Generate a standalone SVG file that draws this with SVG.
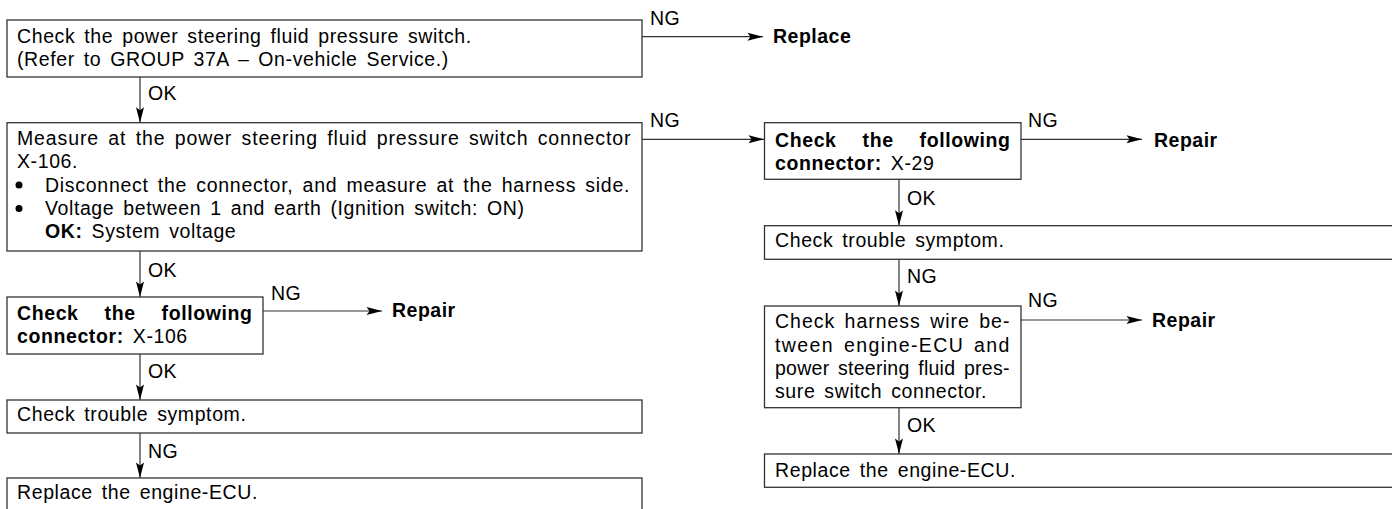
<svg xmlns="http://www.w3.org/2000/svg" width="1392" height="509" viewBox="0 0 1392 509">
<style>
text{font-family:"Liberation Sans",Arial,sans-serif;font-size:19.5px;fill:#000;letter-spacing:0.6px;word-spacing:3px}
.b{font-weight:bold}
.j{font-weight:bold;word-spacing:20px}
.lbl{letter-spacing:0.3px}
.rp{font-weight:bold;letter-spacing:0.5px}
.box{fill:#fff;stroke:#333;stroke-width:1.3}
.ln{fill:none;stroke:#333;stroke-width:1.2}
.h{marker-end:url(#ah)}
</style>
<defs>
<marker id="ah" markerUnits="userSpaceOnUse" markerWidth="18" markerHeight="10" refX="16" refY="4.5" orient="auto">
<path d="M16,4.5 L0.5,0.5 L3.5,4.5 L0.5,8.5 Z" fill="#000"/>
</marker>
</defs>
<g id="connectors">
<path class="ln h" d="M642,36.7 H763"/>
<path class="ln h" d="M140,77 V122.7"/>
<path class="ln h" d="M642,139.3 H764"/>
<path class="ln h" d="M140,251 V297"/>
<path class="ln h" d="M263,311 H382"/>
<path class="ln h" d="M140,354 V400"/>
<path class="ln h" d="M140,433 V478"/>
<path class="ln h" d="M1021,139.3 H1142"/>
<path class="ln h" d="M899,179.3 V225.7"/>
<path class="ln h" d="M899,259.3 V306"/>
<path class="ln h" d="M1021,320 H1142"/>
<path class="ln h" d="M899,407.7 V454"/>
<text class="lbl" x="650" y="25">NG</text>
<text class="lbl" x="148" y="100">OK</text>
<text class="lbl" x="650" y="127">NG</text>
<text class="lbl" x="148" y="277">OK</text>
<text class="lbl" x="271" y="300">NG</text>
<text class="lbl" x="148" y="378">OK</text>
<text class="lbl" x="148" y="458">NG</text>
<text class="lbl" x="1028" y="127">NG</text>
<text class="lbl" x="907" y="205">OK</text>
<text class="lbl" x="907" y="283">NG</text>
<text class="lbl" x="1028" y="306.7">NG</text>
<text class="lbl" x="907" y="431.7">OK</text>
</g>
<g id="n1">
<rect class="box" x="7" y="20" width="635" height="57"/>
<text x="17" y="43">Check the power steering fluid pressure switch.</text>
<text x="17" y="66">(Refer to GROUP 37A – On-vehicle Service.)</text>
</g>
<g id="r1"><text class="rp" x="773" y="43">Replace</text></g>
<g id="n2">
<rect class="box" x="7" y="122.7" width="635" height="128.3"/>
<text x="17" y="145" textLength="614" lengthAdjust="spacing">Measure at the power steering fluid pressure switch connector</text>
<text x="17" y="168">X-106.</text>
<circle cx="19" cy="185" r="3.5" fill="#000"/>
<text x="45" y="191.5" textLength="585" lengthAdjust="spacing">Disconnect the connector, and measure at the harness side.</text>
<circle cx="19" cy="208.5" r="3.5" fill="#000"/>
<text x="45" y="215">Voltage between 1 and earth (Ignition switch: ON)</text>
<text x="45" y="238"><tspan class="b">OK:</tspan>  System voltage</text>
</g>
<g id="n3">
<rect class="box" x="7" y="297" width="256" height="57"/>
<text class="j" x="17" y="320">Check the following</text>
<text x="17" y="343"><tspan class="b">connector:</tspan> X-106</text>
</g>
<g id="r2"><text class="rp" x="392" y="317">Repair</text></g>
<g id="n4">
<rect class="box" x="7" y="400" width="635" height="33"/>
<text x="17" y="421">Check trouble symptom.</text>
</g>
<g id="n5">
<rect class="box" x="7" y="478" width="635" height="40"/>
<text x="17" y="499">Replace the engine-ECU.</text>
</g>
<g id="n6">
<rect class="box" x="764.5" y="122.7" width="256.5" height="56.6"/>
<text class="j" x="775" y="146.7">Check the following</text>
<text x="775" y="170"><tspan class="b">connector:</tspan> X-29</text>
</g>
<g id="r3"><text class="rp" x="1154" y="146.7">Repair</text></g>
<g id="n7">
<rect class="box" x="764.5" y="225.7" width="640" height="33.6"/>
<text x="775" y="246.7">Check trouble symptom.</text>
</g>
<g id="n8">
<rect class="box" x="764.5" y="306" width="256.5" height="101.7"/>
<text x="775" y="328.3" textLength="235" lengthAdjust="spacing">Check harness wire be-</text>
<text x="775" y="351.7" textLength="235" lengthAdjust="spacing">tween engine-ECU and</text>
<text x="775" y="375" textLength="235" lengthAdjust="spacing">power steering fluid pres-</text>
<text x="775" y="398.3">sure switch connector.</text>
</g>
<g id="r4"><text class="rp" x="1152" y="326.7">Repair</text></g>
<g id="n9">
<rect class="box" x="764.5" y="454" width="640" height="33.3"/>
<text x="775" y="476.7">Replace the engine-ECU.</text>
</g>
</svg>
